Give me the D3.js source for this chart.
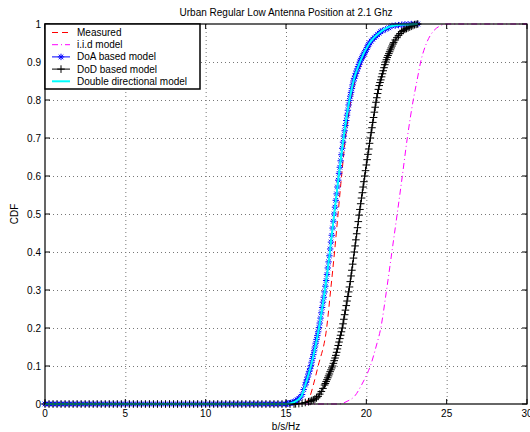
<!DOCTYPE html>
<html>
<head>
<meta charset="utf-8">
<script src="https://cdn.jsdelivr.net/npm/d3@7"></script>
<style>
body { margin: 0; background: #fff; }
text { font-family: "Liberation Sans", Arial, Helvetica, sans-serif; font-size: 10px; fill: #000; }
</style>
</head>
<body>
<svg id="plotSvg"></svg>
<script>
// Axis ticks
const xTicks = [0, 5, 10, 15, 20, 25, 30];
const yTicks = [0, 0.1, 0.2, 0.3, 0.4, 0.5, 0.6, 0.7, 0.8, 0.9, 1];

const seriesNames = ["Measured", "i.i.d model", "DoA based model", "DoD based model", "Double directional model"];

// Measured CDF [b/s/Hz, cdf]
const measuredData = [[0,0],[15.8,0],[16.2,0.005],[16.49,0.02],[16.7,0.05],[17.0,0.1],[17.53,0.2],[17.78,0.3],
    [18.02,0.4],[18.24,0.5],[18.46,0.6],[18.7,0.7],[19.05,0.8],[19.3,0.85],[19.75,0.9],[20.3,0.95],[20.9,0.98],
    [21.3,0.99],[22.0,0.997],[22.5,1],[23.2,1]];

// i.i.d model
const iidData = [[0,0],[18.3,0],[18.8,0.007],[19.3,0.022],[19.7,0.05],[20.0,0.075],[20.25,0.1],[20.6,0.15],
    [20.9,0.2],[21.26,0.3],[21.59,0.4],[21.92,0.5],[22.24,0.6],[22.55,0.7],[22.92,0.8],[23.15,0.85],[23.38,0.9],
    [23.75,0.95],[24.15,0.98],[24.5,0.993],[25.0,1],[30,1]];

// DoA based model (every sample carries a marker)
const doaData = [[0,0],[0.25,0],[0.5,0],[0.75,0],[1,0],[1.25,0],[1.5,0],[1.75,0],[2,0],[2.25,0],[2.5,0],[2.75,0],
    [3,0],[3.25,0],[3.5,0],[3.75,0],[4,0],[4.25,0],[4.5,0],[4.75,0],[5,0],[5.25,0],[5.5,0],[5.75,0],[6,0],[6.25,0],
    [6.5,0],[6.75,0],[7,0],[7.25,0],[7.5,0],[7.75,0],[8,0],[8.25,0],[8.5,0],[8.75,0],[9,0],[9.25,0],[9.5,0],[9.75,0],
    [10,0],[10.25,0],[10.5,0],[10.75,0],[11,0],[11.25,0],[11.5,0],[11.75,0],[12,0],[12.25,0],[12.5,0],[12.75,0],
    [13,0],[13.25,0],[13.5,0],[13.75,0],[14,0],[14.25,0],[14.5,0],[14.75,0],
    [15.0,0],[15.1,0.001],[15.2,0.002],[15.3,0.003],[15.4,0.004],[15.5,0.005],[15.6,0.008],[15.7,0.011],
    [15.8,0.015],[15.9,0.018],[16.0,0.025],[16.1,0.038],
    [16.2,0.05],[16.25,0.057],[16.3,0.064],[16.35,0.071],[16.4,0.079],[16.45,0.086],[16.5,0.093],[16.55,0.101],
    [16.6,0.11],[16.65,0.12],[16.7,0.13],[16.75,0.14],[16.8,0.15],[16.85,0.16],[16.9,0.17],[16.95,0.18],
    [17.0,0.19],[17.05,0.201],[17.1,0.213],[17.15,0.226],[17.2,0.24],[17.25,0.254],[17.3,0.268],[17.35,0.281],
    [17.4,0.295],[17.45,0.31],[17.5,0.325],[17.55,0.341],[17.6,0.358],[17.65,0.374],[17.7,0.39],[17.75,0.408],
    [17.8,0.426],[17.85,0.444],[17.9,0.463],[17.95,0.481],[18.0,0.5],[18.05,0.518],[18.1,0.536],[18.15,0.553],
    [18.2,0.571],[18.25,0.589],[18.3,0.607],[18.35,0.623],[18.4,0.64],[18.45,0.656],[18.5,0.673],[18.55,0.689],
    [18.6,0.705],[18.65,0.719],[18.7,0.733],[18.75,0.746],[18.8,0.76],[18.85,0.773],[18.9,0.787],[18.95,0.799],
    [19.0,0.81],[19.05,0.82],[19.1,0.83],[19.15,0.84],[19.2,0.85],[19.25,0.857],[19.3,0.863],[19.35,0.87],
    [19.4,0.876],[19.45,0.882],[19.5,0.888],[19.55,0.894],[19.6,0.9],[19.65,0.905],[19.7,0.909],[19.75,0.913],
    [19.8,0.917],[19.85,0.921],[19.9,0.925],[19.95,0.929],[20.0,0.933],[20.05,0.938],[20.1,0.942],[20.15,0.946],
    [20.2,0.95],[20.3,0.955],[20.4,0.96],[20.5,0.964],[20.6,0.968],[20.7,0.972],[20.8,0.976],[20.9,0.98],
    [21.0,0.982],[21.2,0.986],[21.4,0.99],[21.6,0.995],[21.8,0.996],[22.0,0.997],[22.2,0.998],[22.4,0.999],
    [22.6,0.999],[22.8,1],[23.0,1],[23.2,1]];

// DoD based model
const dodData = [[0,0],[0.25,0],[0.5,0],[0.75,0],[1,0],[1.25,0],[1.5,0],[1.75,0],[2,0],[2.25,0],[2.5,0],[2.75,0],
    [3,0],[3.25,0],[3.5,0],[3.75,0],[4,0],[4.25,0],[4.5,0],[4.75,0],[5,0],[5.25,0],[5.5,0],[5.75,0],[6,0],[6.25,0],
    [6.5,0],[6.75,0],[7,0],[7.25,0],[7.5,0],[7.75,0],[8,0],[8.25,0],[8.5,0],[8.75,0],[9,0],[9.25,0],[9.5,0],[9.75,0],
    [10,0],[10.25,0],[10.5,0],[10.75,0],[11,0],[11.25,0],[11.5,0],[11.75,0],[12,0],[12.25,0],[12.5,0],[12.75,0],
    [13,0],[13.25,0],[13.5,0],[13.75,0],[14,0],[14.25,0],[14.5,0],[14.75,0],[15,0],[15.25,0],
    [15.5,0],[15.6,0.0005],[15.8,0.001],[16.0,0.002],[16.2,0.004],[16.4,0.006],[16.5,0.007],[16.6,0.009],
    [16.7,0.011],[16.8,0.013],[16.9,0.016],[17.0,0.02],[17.1,0.026],[17.2,0.033],[17.3,0.041],[17.4,0.05],
    [17.45,0.054],[17.5,0.059],[17.55,0.064],[17.6,0.069],[17.65,0.074],[17.7,0.079],[17.75,0.085],[17.8,0.09],
    [17.85,0.095],[17.9,0.1],[17.95,0.107],[18.0,0.114],[18.05,0.121],[18.1,0.128],[18.15,0.136],[18.2,0.145],
    [18.25,0.154],[18.3,0.163],[18.35,0.172],[18.4,0.181],[18.45,0.19],[18.5,0.2],[18.55,0.211],[18.6,0.223],
    [18.65,0.235],[18.7,0.247],[18.75,0.259],[18.8,0.271],[18.85,0.283],[18.9,0.295],[18.95,0.308],[19.0,0.322],
    [19.05,0.337],[19.1,0.352],[19.15,0.368],[19.2,0.384],[19.25,0.4],[19.3,0.416],[19.35,0.432],[19.4,0.448],
    [19.45,0.464],[19.5,0.48],[19.55,0.497],[19.6,0.512],[19.65,0.527],[19.7,0.542],[19.75,0.556],[19.8,0.571],
    [19.85,0.585],[19.9,0.6],[19.95,0.614],[20.0,0.629],[20.05,0.643],[20.1,0.657],[20.15,0.671],[20.2,0.686],
    [20.25,0.7],[20.3,0.714],[20.35,0.727],[20.4,0.741],[20.45,0.754],[20.5,0.768],[20.55,0.781],[20.6,0.794],
    [20.65,0.806],[20.7,0.817],[20.75,0.828],[20.8,0.838],[20.85,0.846],[20.9,0.853],[20.95,0.861],[21.0,0.869],
    [21.05,0.877],[21.1,0.885],[21.15,0.893],[21.2,0.9],[21.25,0.906],[21.3,0.912],[21.35,0.917],[21.4,0.922],
    [21.45,0.927],[21.5,0.932],[21.55,0.937],[21.6,0.942],[21.65,0.947],[21.7,0.951],
    [21.8,0.958],[21.9,0.964],[22.0,0.97],[22.1,0.975],[22.2,0.98],[22.3,0.983],[22.4,0.986],[22.5,0.988],
    [22.6,0.99],[22.7,0.992],[22.8,0.994],[22.9,0.996],[23.0,0.998],[23.1,0.999],[23.2,1]];

// Double directional model (lies on top of the DoA curve)
const doubleData = [[0,0],[15.0,0],[15.5,0.005],[15.95,0.02],[16.2,0.05],[16.55,0.1],[17.05,0.2],[17.42,0.3],
    [17.73,0.4],[18.0,0.5],[18.28,0.6],[18.58,0.7],[18.95,0.8],[19.2,0.85],[19.6,0.9],[20.2,0.95],[20.9,0.98],
    [21.6,0.995],[22.5,0.999],[23.2,1]];

const width = 530, height = 432;
const plot = { left: 45, right: 527, top: 24, bottom: 404 };

const svg = d3.select("#plotSvg")
    .attr("width", width)
    .attr("height", height);

const x = d3.scaleLinear().domain([0, 30]).range([plot.left, plot.right]);
const y = d3.scaleLinear().domain([0, 1]).range([plot.bottom, plot.top]);

// dotted grid
svg.append("g").selectAll("line")
    .data(xTicks.slice(1, -1))
    .enter().append("line")
    .attr("x1", d => x(d) + 0.5).attr("x2", d => x(d) + 0.5)
    .attr("y1", plot.top).attr("y2", plot.bottom)
    .attr("stroke", "#777").attr("stroke-width", 1).attr("stroke-dasharray", "1,3");
svg.append("g").selectAll("line")
    .data(yTicks.slice(1, -1))
    .enter().append("line")
    .attr("x1", plot.left).attr("x2", plot.right)
    .attr("y1", d => Math.round(y(d)) + 0.5).attr("y2", d => Math.round(y(d)) + 0.5)
    .attr("stroke", "#777").attr("stroke-width", 1).attr("stroke-dasharray", "1,3");

// inward tick marks on all four sides
const tickLen = 5;
const ticksG = svg.append("g").attr("stroke", "#000").attr("stroke-width", 1);
xTicks.forEach(t => {
    ticksG.append("line").attr("x1", x(t)).attr("x2", x(t)).attr("y1", plot.bottom).attr("y2", plot.bottom - tickLen);
    ticksG.append("line").attr("x1", x(t)).attr("x2", x(t)).attr("y1", plot.top).attr("y2", plot.top + tickLen);
});
yTicks.forEach(t => {
    ticksG.append("line").attr("x1", plot.left).attr("x2", plot.left + tickLen).attr("y1", y(t)).attr("y2", y(t));
    ticksG.append("line").attr("x1", plot.right).attr("x2", plot.right - tickLen).attr("y1", y(t)).attr("y2", y(t));
});

// tick labels
svg.append("g").selectAll("text")
    .data(xTicks)
    .enter().append("text")
    .attr("x", d => x(d))
    .attr("y", plot.bottom + 13)
    .attr("text-anchor", "middle")
    .text(d => d);
svg.append("g").selectAll("text")
    .data(yTicks)
    .enter().append("text")
    .attr("x", plot.left - 4)
    .attr("y", d => y(d) + 3.5)
    .attr("text-anchor", "end")
    .text(d => d);

const line = d3.line().x(d => x(d[0])).y(d => y(d[1]));
const smoothLine = d3.line().curve(d3.curveMonotoneX).x(d => x(d[0])).y(d => y(d[1]));

const asterisk = "M-3.2,0H3.2M0,-3.2V3.2M-2.3,-2.3L2.3,2.3M-2.3,2.3L2.3,-2.3";
const plus = "M-3.8,0H3.8M0,-3.8V3.8";

const curves = svg.append("g");

// Measured
curves.append("path").datum(measuredData)
    .attr("d", smoothLine).attr("fill", "none")
    .attr("stroke", "#ff0000").attr("stroke-width", 1).attr("stroke-dasharray", "6,4");

// i.i.d model (dash-dot)
curves.append("path").datum(iidData)
    .attr("d", smoothLine).attr("fill", "none")
    .attr("stroke", "#ff00ff").attr("stroke-width", 1).attr("stroke-dasharray", "6,3,1,3");

// DoA based model
curves.append("path").datum(doaData)
    .attr("d", line).attr("fill", "none")
    .attr("stroke", "#0000ff").attr("stroke-width", 1);
curves.append("g").selectAll("path")
    .data(doaData)
    .enter().append("path")
    .attr("d", asterisk)
    .attr("transform", d => `translate(${x(d[0])},${y(d[1])})`)
    .attr("stroke", "#0000ff").attr("stroke-width", 1).attr("fill", "none");

// DoD based model
curves.append("path").datum(dodData)
    .attr("d", line).attr("fill", "none")
    .attr("stroke", "#000").attr("stroke-width", 1);
curves.append("g").selectAll("path")
    .data(dodData)
    .enter().append("path")
    .attr("d", plus)
    .attr("transform", d => `translate(${x(d[0])},${y(d[1])})`)
    .attr("stroke", "#000").attr("stroke-width", 1).attr("fill", "none");

// Double directional model
curves.append("path").datum(doubleData)
    .attr("d", smoothLine).attr("fill", "none")
    .attr("stroke", "#00ffff").attr("stroke-width", 2);

// axes box
svg.append("rect")
    .attr("x", plot.left).attr("y", plot.top)
    .attr("width", plot.right - plot.left).attr("height", plot.bottom - plot.top)
    .attr("fill", "none").attr("stroke", "#000").attr("stroke-width", 1.2);

// title and axis labels
svg.append("text")
    .attr("x", (plot.left + plot.right) / 2).attr("y", 16)
    .attr("text-anchor", "middle")
    .text("Urban Regular Low Antenna Position at 2.1 Ghz");
svg.append("text")
    .attr("x", (plot.left + plot.right) / 2).attr("y", 430)
    .attr("text-anchor", "middle")
    .text("b/s/Hz");
svg.append("text")
    .attr("transform", `translate(18,${(plot.top + plot.bottom) / 2}) rotate(-90)`)
    .attr("text-anchor", "middle")
    .text("CDF");

// legend
const legend = svg.append("g");
legend.append("rect")
    .attr("x", plot.left).attr("y", plot.top)
    .attr("width", 155).attr("height", 65)
    .attr("fill", "#fff").attr("stroke", "#000").attr("stroke-width", 1.5);

const legendStyles = [
    { color: "#ff0000", dash: "6,4", w: 1, marker: null },
    { color: "#ff00ff", dash: "6,3,1,3", w: 1, marker: null },
    { color: "#0000ff", dash: null, w: 1, marker: asterisk },
    { color: "#000", dash: null, w: 1, marker: plus },
    { color: "#00ffff", dash: null, w: 2, marker: null }
];

seriesNames.forEach((name, i) => {
    const ly = plot.top + 8.5 + i * 12.2;
    const s = legendStyles[i];
    legend.append("line")
        .attr("x1", 52).attr("x2", 70).attr("y1", ly).attr("y2", ly)
        .attr("stroke", s.color).attr("stroke-width", s.w)
        .attr("stroke-dasharray", s.dash);
    if (s.marker) {
        legend.append("path")
            .attr("d", s.marker)
            .attr("transform", `translate(61,${ly})`)
            .attr("stroke", s.color).attr("fill", "none");
    }
    legend.append("text")
        .attr("x", 77).attr("y", ly + 3.5)
        .text(name);
});
</script>
</body>
</html>
